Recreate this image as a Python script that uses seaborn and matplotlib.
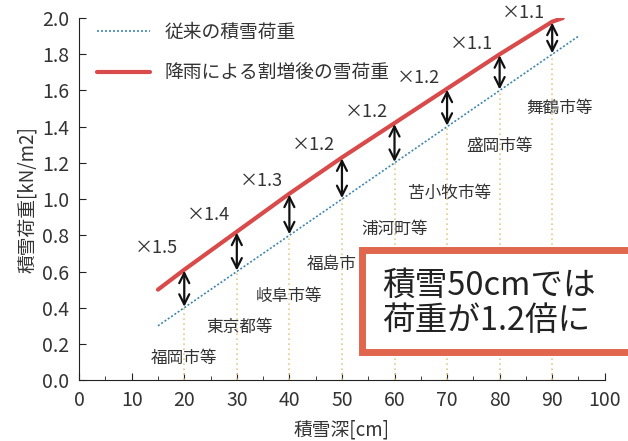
import numpy as np
import pandas as pd
import matplotlib
matplotlib.use('Agg')
import matplotlib.pyplot as plt
import seaborn as sns
from matplotlib.patches import Rectangle
from matplotlib.ticker import MultipleLocator

# data
depth_line = [15, 20, 30, 40, 50, 60, 70, 80, 90, 95]
old_load = [0.30, 0.40, 0.60, 0.80, 1.00, 1.20, 1.40, 1.60, 1.80, 1.90]
new_depth = [15, 20, 30, 40, 50, 60, 70, 80, 90, 92]
new_load = [0.50, 0.61, 0.82, 1.03, 1.23, 1.42, 1.61, 1.80, 1.98, 2.00]
points = [20, 30, 40, 50, 60, 70, 80, 90]
point_old = [0.40, 0.60, 0.80, 1.00, 1.20, 1.40, 1.60, 1.80]
point_new = [0.61, 0.82, 1.03, 1.23, 1.42, 1.61, 1.80, 1.98]
ratios = ['×1.5', '×1.4', '×1.3', '×1.2', '×1.2', '×1.2', '×1.1', '×1.1']
cities = ['福岡市等', '東京都等', '岐阜市等', '福島市', '浦河町等', '苫小牧市等', '盛岡市等', '舞鶴市等']
city_x = [20, 30.5, 40, 48, 60, 70.5, 80, 91.5]
city_y = [0.12, 0.29, 0.46, 0.64, 0.83, 1.03, 1.29, 1.50]

sns.set_style('ticks')
plt.rcParams['font.family'] = ['Noto Sans CJK JP', 'DejaVu Sans']

red = '#d94a4a'
blue = '#3f86b0'
txt = '#333333'

df_old = pd.DataFrame({'depth': depth_line, 'load': old_load})
df_new = pd.DataFrame({'depth': new_depth, 'load': new_load})

fig = plt.figure(figsize=(6.28, 4.41), dpi=100)
ax = fig.add_axes([0.126, 0.138, 0.837, 0.821])

sns.lineplot(data=df_old, x='depth', y='load', ax=ax, color=blue, linestyle=(0, (1.2, 1.2)),
             linewidth=1.2, label='従来の積雪荷重')
sns.lineplot(data=df_new, x='depth', y='load', ax=ax, color=red, linewidth=3,
             label='降雨による割増後の雪荷重')

# label offsets above the red line
dy = [0.12, 0.09, 0.07, 0.07, 0.06, 0.06, 0.055, 0.05]
for i, (x, y0, y1, r) in enumerate(zip(points, point_old, point_new, ratios)):
    ax.plot([x, x], [0, y0], color='#e6c88e', linestyle=(0, (1, 2)), linewidth=1.2, zorder=1)
    ax.annotate('', xy=(x, y0 - 0.01), xytext=(x, y1 + 0.01),
                arrowprops=dict(arrowstyle='<->', color='#111111', lw=1.6, mutation_scale=18))
    ax.text(x - 5.4, y1 + dy[i], r, ha='center', va='center', fontsize=13, color=txt,
            clip_on=False)

for c, cx, cy in zip(cities, city_x, city_y):
    ax.text(cx, cy, c, ha='center', va='center', fontsize=12, color=txt)

# callout box
box = Rectangle((53.8, 0.155), 60, 0.565, facecolor='white', edgecolor='#e0664e',
                linewidth=5, clip_on=False, zorder=5)
ax.add_patch(box)
ax.text(57.6, 0.425, '積雪50cmでは\n荷重が1.2倍に', ha='left', va='center', fontsize=23.5,
        color='#222222', linespacing=1.15, zorder=6)

ax.set_xlim(0, 100)
ax.set_ylim(0, 2.0)
ax.set_xticks(range(0, 101, 10))
ax.set_yticks(np.arange(0, 2.01, 0.2))
ax.set_yticklabels([f'{v:.1f}' for v in np.arange(0, 2.01, 0.2)])
ax.xaxis.set_minor_locator(MultipleLocator(5))
ax.tick_params(axis='both', which='both', direction='in', labelsize=14, colors='#222222',
               labelcolor=txt)
ax.tick_params(axis='both', which='major', length=5, pad=7)
ax.tick_params(axis='both', which='minor', length=3)
sns.despine(ax=ax)
ax.spines['left'].set_color('#222222')
ax.spines['bottom'].set_color('#222222')
ax.set_xlabel('積雪深[cm]', fontsize=13.5, color=txt, labelpad=6)
ax.set_ylabel('積雪荷重[kN/m2]', fontsize=13.5, color=txt, labelpad=3)

leg = ax.legend(loc='upper left', bbox_to_anchor=(0.02, 1.01), frameon=False, fontsize=13.5,
                handlelength=2.8, labelspacing=1.05, borderaxespad=0)
for t in leg.get_texts():
    t.set_color(txt)

fig.savefig('out.png', dpi=100)
